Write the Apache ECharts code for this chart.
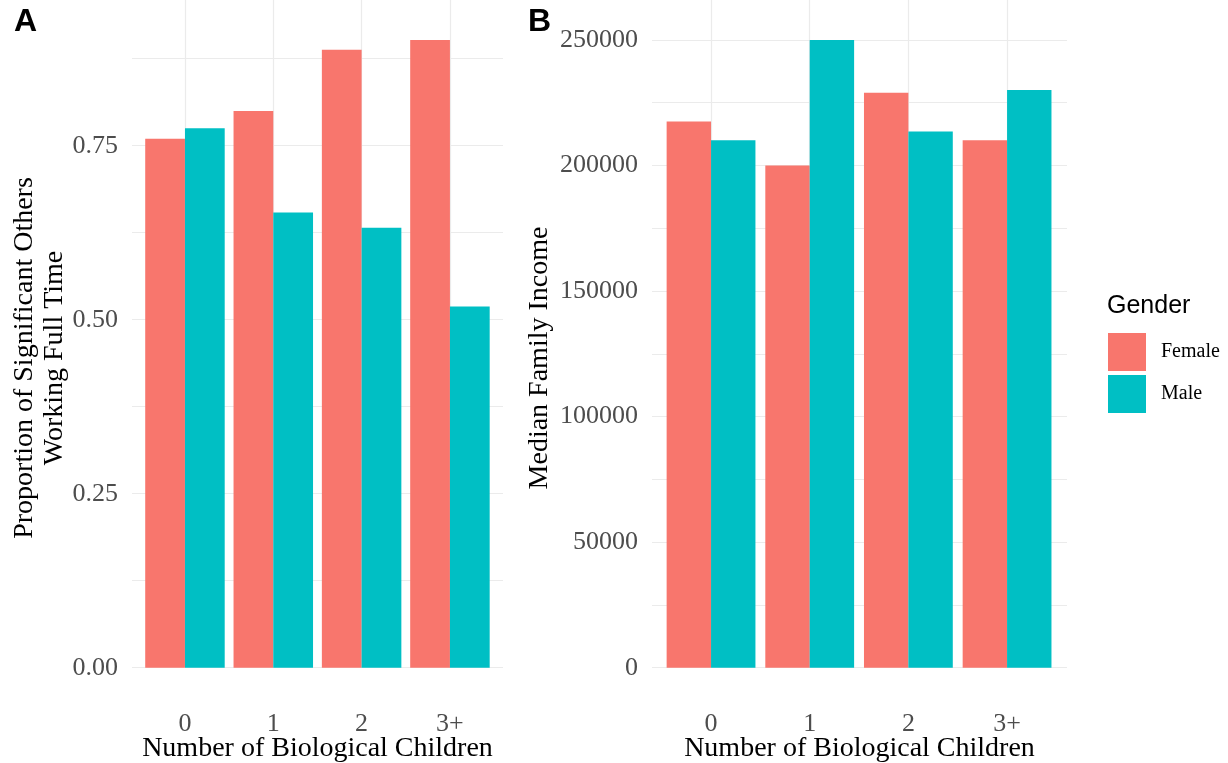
<!DOCTYPE html>
<html>
<head>
<meta charset="utf-8">
<script src="https://cdn.jsdelivr.net/npm/echarts@6/dist/echarts.min.js"></script>
<style>
  html, body { margin: 0; background: #fff; }
  #chart { width: 1228px; height: 763px; }
</style>
</head>
<body>
<div id="chart"></div>
<script>
// data
var children = ['0', '1', '2', '3+'];
var propFemale = [0.760, 0.800, 0.888, 0.902];
var propMale = [0.775, 0.654, 0.632, 0.519];
var incomeFemale = [217500, 200000, 229000, 210000];
var incomeMale = [210000, 250000, 213500, 230000];
var propTicks = [0, 0.25, 0.5, 0.75];
var propLines = [0, 0.125, 0.25, 0.375, 0.5, 0.625, 0.75, 0.875];
var incomeTicks = [0, 50000, 100000, 150000, 200000, 250000];
var incomeLines = [0, 25000, 50000, 75000, 100000, 125000, 150000, 175000, 200000, 225000, 250000];

var serif = 'Liberation Serif';
var gridColor = '#ebebeb';
var plotTop = 8.5, plotH = 690.6;

var chart = echarts.init(document.getElementById('chart'));

function bgY(idx, min, max, ticks, lines, fmt) {
  return {
    gridIndex: idx, type: 'value', min: min, max: max,
    axisLine: { show: false },
    axisTick: { show: false, customValues: lines },
    axisLabel: {
      customValues: ticks, margin: 14, color: '#4d4d4d',
      fontFamily: serif, fontSize: 26, formatter: fmt
    },
    splitLine: { show: true, lineStyle: { color: gridColor, width: 1.2 } }
  };
}
function hiddenY(idx, min, max) {
  return { gridIndex: idx, type: 'value', min: min, max: max, show: false, splitLine: { show: false } };
}
function barX(idx) {
  return {
    gridIndex: idx, type: 'category', data: children,
    axisLine: { show: false },
    axisTick: { show: true, inside: true, alignWithLabel: true, length: plotH, lineStyle: { color: gridColor, width: 1.2 } },
    axisLabel: { margin: 12, color: '#4d4d4d', fontFamily: serif, fontSize: 26 },
    splitLine: { show: false }
  };
}

chart.setOption({
  animation: false,
  grid: [
    { left: 132, width: 371, top: plotTop, height: plotH, outerBoundsMode: 'none' },
    { left: 140.8, width: 353.3, top: plotTop, height: plotH, outerBoundsMode: 'none' },
    { left: 652, width: 415, top: plotTop, height: plotH, outerBoundsMode: 'none' },
    { left: 661.7, width: 394.7, top: plotTop, height: plotH, outerBoundsMode: 'none' }
  ],
  xAxis: [
    { gridIndex: 0, type: 'value', show: false },
    barX(1),
    { gridIndex: 2, type: 'value', show: false },
    barX(3)
  ],
  yAxis: [
    bgY(0, -0.0451, 0.9471, propTicks, propLines, function (v) { return v.toFixed(2); }),
    hiddenY(1, -0.0451, 0.9471),
    bgY(2, -12500, 262500, incomeTicks, incomeLines, function (v) { return v.toFixed(0); }),
    hiddenY(3, -12500, 262500)
  ],
  legend: {
    orient: 'vertical', left: 1108, top: 333, padding: 0,
    itemWidth: 38, itemHeight: 38, itemGap: 4, icon: 'rect',
    textStyle: { fontFamily: serif, fontSize: 20, color: '#000', padding: [0, 0, 0, 10] },
    data: ['Female', 'Male']
  },
  color: ['#F8766D', '#00BFC4'],
  series: [
    { name: 'Female', type: 'bar', xAxisIndex: 1, yAxisIndex: 1, data: propFemale, barGap: '0%', barCategoryGap: '10%', itemStyle: { color: '#F8766D' } },
    { name: 'Male', type: 'bar', xAxisIndex: 1, yAxisIndex: 1, data: propMale, barGap: '0%', barCategoryGap: '10%', itemStyle: { color: '#00BFC4' } },
    { name: 'Female', type: 'bar', xAxisIndex: 3, yAxisIndex: 3, data: incomeFemale, barGap: '0%', barCategoryGap: '10%', itemStyle: { color: '#F8766D' } },
    { name: 'Male', type: 'bar', xAxisIndex: 3, yAxisIndex: 3, data: incomeMale, barGap: '0%', barCategoryGap: '10%', itemStyle: { color: '#00BFC4' } }
  ],
  graphic: [
    { type: 'text', left: 14, top: 6, style: { text: 'A', font: 'bold 32px "Liberation Sans"', fill: '#000' } },
    { type: 'text', left: 528, top: 6, style: { text: 'B', font: 'bold 32px "Liberation Sans"', fill: '#000' } },
    { type: 'text', x: 317.5, y: 749, style: { text: 'Number of Biological Children', font: '28px "Liberation Serif"', fill: '#000', align: 'center', verticalAlign: 'middle' } },
    { type: 'text', x: 859.5, y: 749, style: { text: 'Number of Biological Children', font: '28px "Liberation Serif"', fill: '#000', align: 'center', verticalAlign: 'middle' } },
    { type: 'text', x: 40, y: 358, rotation: Math.PI / 2, style: { text: 'Proportion of Significant Others\nWorking Full Time', font: '28px "Liberation Serif"', lineHeight: 30, fill: '#000', align: 'center', verticalAlign: 'middle' } },
    { type: 'text', x: 540, y: 358, rotation: Math.PI / 2, style: { text: 'Median Family Income', font: '28px "Liberation Serif"', fill: '#000', align: 'center', verticalAlign: 'middle' } },
    { type: 'text', left: 1107, top: 294, style: { text: 'Gender', font: '25px "Liberation Sans"', fill: '#000' } }
  ]
});
</script>
</body>
</html>
